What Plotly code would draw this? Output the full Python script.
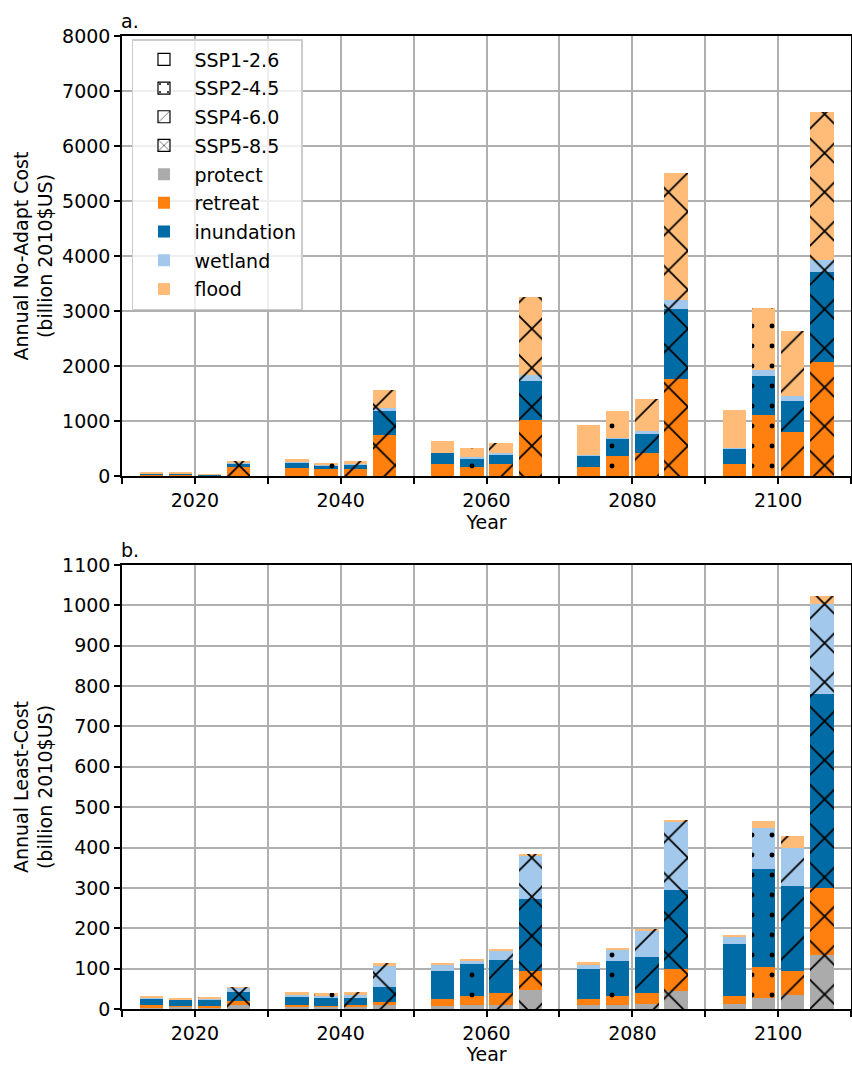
import plotly.graph_objects as go
from plotly.subplots import make_subplots

# ---------------- data ----------------
years = [2020, 2040, 2060, 2080, 2100]
ssp_names = ["SSP1-2.6", "SSP2-4.5", "SSP4-6.0", "SSP5-8.5"]
categories = ["protect", "retreat", "inundation", "wetland", "flood"]
xtick_vals = [2010, 2020, 2030, 2040, 2050, 2060, 2070, 2080, 2090, 2100, 2110]
xtick_text = ["", "2020", "", "2040", "", "2060", "", "2080", "", "2100", ""]

# Panel a: Annual No-Adapt Cost (billion 2010$US)
noadapt_protect = {
    "SSP1-2.6": [0, 0, 0, 0, 0],
    "SSP2-4.5": [0, 0, 0, 0, 0],
    "SSP4-6.0": [0, 0, 0, 0, 0],
    "SSP5-8.5": [0, 0, 0, 0, 0],
}
noadapt_retreat = {
    "SSP1-2.6": [30, 145, 212, 170, 218],
    "SSP2-4.5": [28, 121, 164, 370, 1109],
    "SSP4-6.0": [4, 121, 212, 424, 794],
    "SSP5-8.5": [155, 745, 1024, 1770, 2073],
}
noadapt_inundation = {
    "SSP1-2.6": [12, 103, 206, 200, 279],
    "SSP2-4.5": [12, 73, 145, 303, 709],
    "SSP4-6.0": [20, 91, 176, 334, 564],
    "SSP5-8.5": [80, 437, 709, 1272, 1636],
}
noadapt_wetland = {
    "SSP1-2.6": [0, 3, 4, 4, 5],
    "SSP2-4.5": [2, 12, 30, 18, 103],
    "SSP4-6.0": [2, 12, 24, 54, 90],
    "SSP5-8.5": [10, 60, 103, 158, 224],
}
noadapt_flood = {
    "SSP1-2.6": [18, 52, 214, 553, 704],
    "SSP2-4.5": [20, 24, 164, 497, 1140],
    "SSP4-6.0": [4, 43, 182, 588, 1188],
    "SSP5-8.5": [22, 328, 1412, 2303, 2685],
}

# Panel b: Annual Least-Cost (billion 2010$US)
least_protect = {
    "SSP1-2.6": [3, 4, 8, 9, 13],
    "SSP2-4.5": [5, 5, 9, 9, 28],
    "SSP4-6.0": [4, 4, 11, 11.5, 35],
    "SSP5-8.5": [10.6, 10.6, 46, 45, 134],
}
least_retreat = {
    "SSP1-2.6": [6.8, 5.8, 16, 15, 18],
    "SSP2-4.5": [3, 1.5, 22, 23, 77],
    "SSP4-6.0": [4, 5.8, 28, 29, 60],
    "SSP5-8.5": [8, 5.7, 49, 54, 165],
}
least_inundation = {
    "SSP1-2.6": [13.8, 19.5, 69, 74, 131],
    "SSP2-4.5": [15, 20.3, 80, 86, 241],
    "SSP4-6.0": [15.6, 17.8, 83, 88, 210],
    "SSP5-8.5": [23, 39, 177, 197, 482],
}
least_wetland = {
    "SSP1-2.6": [5.7, 5.7, 17, 10, 18],
    "SSP2-4.5": [1.5, 5, 8, 28.5, 102],
    "SSP4-6.0": [1.6, 7.4, 22, 65, 95],
    "SSP5-8.5": [11, 50, 108, 169, 222],
}
least_flood = {
    "SSP1-2.6": [2.4, 8, 2, 9, 4],
    "SSP2-4.5": [3, 8, 4.5, 5, 18],
    "SSP4-6.0": [3.3, 8, 3, 5.5, 28],
    "SSP5-8.5": [1, 8, 5, 4, 19],
}

# ---------------- styles ----------------
cat_colors = {
    "protect": "#ABABAB",
    "retreat": "#FF800E",
    "inundation": "#006BA4",
    "wetland": "#A2C8EC",
    "flood": "#FFBC79",
}
ssp_offsets = {"SSP1-2.6": -6, "SSP2-4.5": -2, "SSP4-6.0": 2, "SSP5-8.5": 6}
ssp_patterns = {
    "SSP1-2.6": dict(shape=""),
    "SSP2-4.5": dict(shape=".", size=20, solidity=0.048),
    "SSP4-6.0": dict(shape="/", size=27.6, solidity=0.065),
    "SSP5-8.5": dict(shape="x", size=27.6, solidity=0.125),
}
bar_width = 3.2
FONT = "DejaVu Sans"

panel_a = [noadapt_protect, noadapt_retreat, noadapt_inundation, noadapt_wetland, noadapt_flood]
panel_b = [least_protect, least_retreat, least_inundation, least_wetland, least_flood]

fig = make_subplots(rows=2, cols=1, vertical_spacing=0.0915)

for row, panel in [(1, panel_a), (2, panel_b)]:
    for ssp in ssp_names:
        xs = [y + ssp_offsets[ssp] for y in years]
        for cat, data in zip(categories, panel):
            pat = dict(ssp_patterns[ssp])
            if pat["shape"]:
                pat.update(fillmode="overlay", fgcolor="black", fgopacity=1)
            fig.add_trace(
                go.Bar(
                    x=xs, y=data[ssp], width=bar_width,
                    marker=dict(color=cat_colors[cat], line=dict(width=0), pattern=pat),
                    showlegend=False, hoverinfo="skip",
                ),
                row=row, col=1,
            )

# legend entries
for ssp in ssp_names:
    pat = dict(ssp_patterns[ssp])
    if pat["shape"]:
        pat.update(fillmode="overlay", fgcolor="black", fgopacity=1)
    fig.add_trace(go.Bar(x=[None], y=[None], name=ssp, legendgroup=ssp,
                         marker=dict(color="white", line=dict(color="black", width=1.2), pattern=pat),
                         showlegend=True), row=1, col=1)
for cat in categories:
    fig.add_trace(go.Bar(x=[None], y=[None], name=cat, legendgroup=cat,
                         marker=dict(color=cat_colors[cat], line=dict(width=0)),
                         showlegend=True), row=1, col=1)

axis_common = dict(
    showline=True, mirror=True, linecolor="black", linewidth=1.5,
    ticks="outside", ticklen=6, tickwidth=1.5, tickcolor="black",
    showgrid=True, gridcolor="#b0b0b0", gridwidth=1.5, zeroline=False,
    tickfont=dict(family=FONT, size=19, color="black"), automargin=False,
)
for r in (1, 2):
    fig.update_xaxes(range=[2010, 2110], tickvals=xtick_vals, ticktext=xtick_text,
                     title=dict(text="Year", font=dict(family=FONT, size=19, color="black"), standoff=1),
                     row=r, col=1, **axis_common)
fig.update_yaxes(range=[0, 8000], dtick=1000, row=1, col=1,
                 title=dict(text="Annual No-Adapt Cost<br>(billion 2010$US)",
                            font=dict(family=FONT, size=19, color="black"), standoff=4),
                 **axis_common)
fig.update_yaxes(range=[0, 1100], dtick=100, row=2, col=1,
                 title=dict(text="Annual Least-Cost<br>(billion 2010$US)",
                            font=dict(family=FONT, size=19, color="black"), standoff=4),
                 **axis_common)

fig.update_layout(
    width=852, height=1065,
    margin=dict(l=122, r=1, t=36, b=56, autoexpand=False),
    barmode="stack", bargap=0,
    plot_bgcolor="white", paper_bgcolor="white",
    font=dict(family=FONT, size=19, color="black"),
    legend=dict(x=0.0137, y=0.9969, xanchor="left", yanchor="top",
                bgcolor="rgba(255,255,255,0.8)", bordercolor="#cccccc", borderwidth=1.5,
                font=dict(family=FONT, size=19, color="black"), traceorder="grouped",
                tracegroupgap=1, itemwidth=51),
    annotations=[
        dict(text="a.", x=0, y=1, xref="paper", yref="paper", xanchor="left", yanchor="bottom",
             showarrow=False, yshift=2, xshift=-3, font=dict(family=FONT, size=19, color="black")),
        dict(text="b.", x=0, y=0.4563, xref="paper", yref="paper", xanchor="left", yanchor="bottom",
             showarrow=False, yshift=2, xshift=-3, font=dict(family=FONT, size=19, color="black")),
    ],
)
fig.update_yaxes(domain=[0.5478, 1.0], row=1, col=1)
fig.update_yaxes(domain=[0.0, 0.4563], row=2, col=1)

fig.write_html("out.html", config={"displayModeBar": False},
               post_script="document.body.style.margin='0px';document.body.style.padding='0px';")
